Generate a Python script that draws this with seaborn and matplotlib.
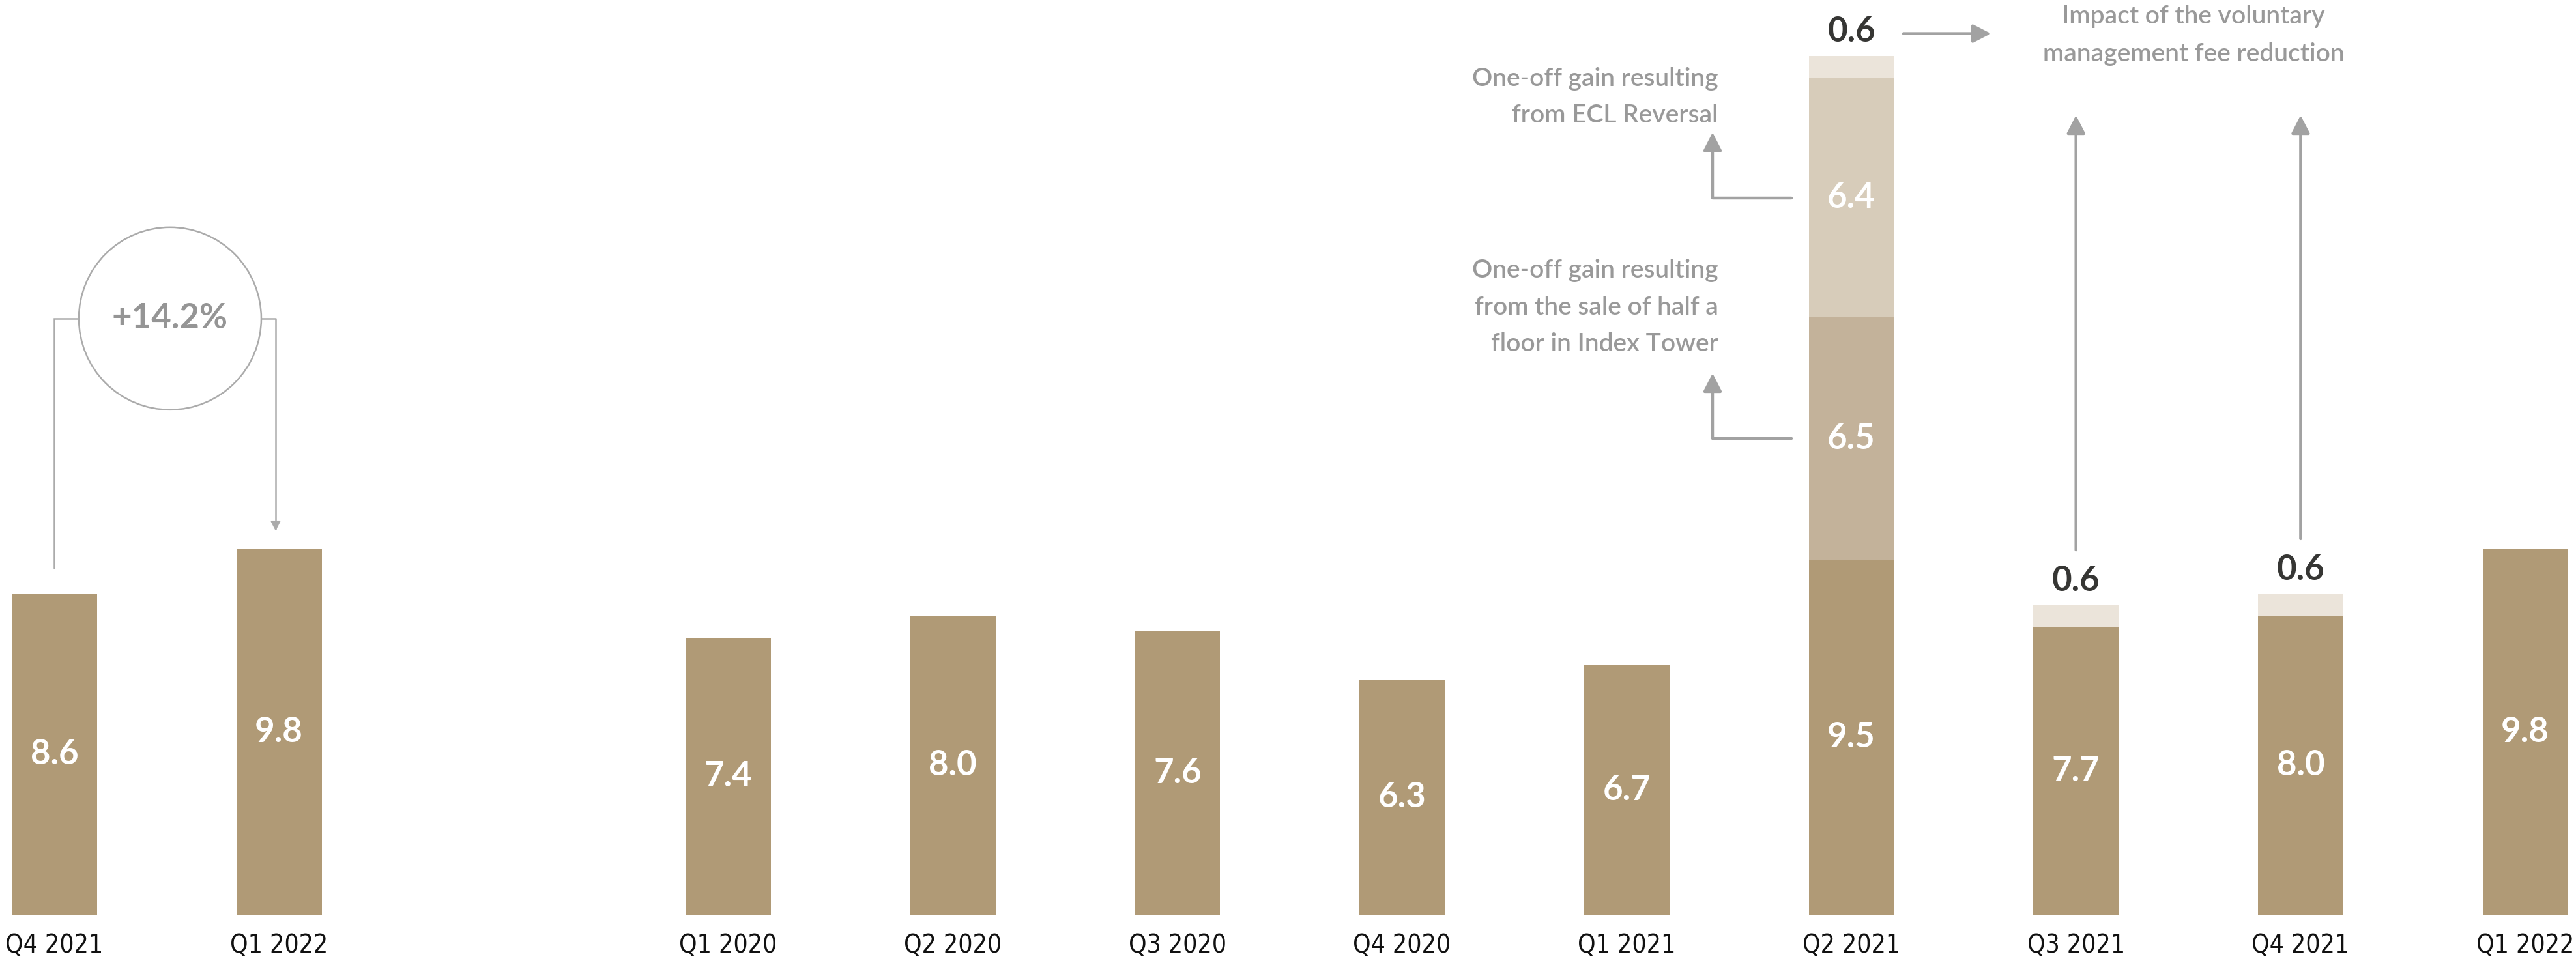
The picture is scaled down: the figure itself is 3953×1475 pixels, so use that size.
import numpy as np
import pandas as pd
import matplotlib
matplotlib.use("Agg")
import matplotlib.pyplot as plt
from matplotlib.patches import Ellipse
from matplotlib import font_manager
import seaborn as sns

# ---------------- data ----------------
summary_quarters = ["Q4 2021", "Q1 2022"]
summary_values = [8.6, 9.8]
growth_text = "+14.2%"

quarters = ["Q1 2020", "Q2 2020", "Q3 2020", "Q4 2020", "Q1 2021",
            "Q2 2021", "Q3 2021", "Q4 2021", "Q1 2022"]
recurring = [7.4, 8.0, 7.6, 6.3, 6.7, 9.5, 7.7, 8.0, 9.8]
index_tower_gain = [0, 0, 0, 0, 0, 6.5, 0, 0, 0]
ecl_reversal = [0, 0, 0, 0, 0, 6.4, 0, 0, 0]
fee_reduction = [0, 0, 0, 0, 0, 0.6, 0.6, 0.6, 0]

ecl_note = "One-off gain resulting\nfrom ECL Reversal"
tower_note = "One-off gain resulting\nfrom the sale of half a\nfloor in Index Tower"
fee_note = "Impact of the voluntary\nmanagement fee reduction"

# ---------------- style ----------------
BASE = "#b09a76"
TOWER = "#c3b29a"
ECL = "#d7ccba"
FEE = "#ebe4da"
ARROW = "#a2a2a2"
CONNECT = "#ababab"
NOTE = "#999999"
DARK = "#363634"

sns.set_theme(style="white")
plt.rcParams["font.family"] = ["Lato", "DejaVu Sans"]

available = {f.name for f in font_manager.fontManager.ttflist}
tick_family = "Liberation Sans Narrow" if "Liberation Sans Narrow" in available else "DejaVu Sans"

# ---------------- layout: two groups on one category axis ----------------
summary_slots = [0, 1]
main_slots = list(range(3, 3 + len(quarters)))
n_slots = 3 + len(quarters)
slot_order = [f"s{i}" for i in range(n_slots)]
tick_labels = [""] * n_slots
for s, q in zip(summary_slots, summary_quarters):
    tick_labels[s] = q
for s, q in zip(main_slots, quarters):
    tick_labels[s] = q

rec = np.array(recurring, dtype=float)
tow = np.array(index_tower_gain, dtype=float)
ecl = np.array(ecl_reversal, dtype=float)
fee = np.array(fee_reduction, dtype=float)
lvl_base = rec
lvl_tower = rec + tow
lvl_ecl = lvl_tower + ecl
lvl_fee = lvl_ecl + fee

rows = []
for layer, vals in [("fee", lvl_fee), ("ecl", lvl_ecl), ("tower", lvl_tower), ("base", lvl_base)]:
    for s, v in zip(main_slots, vals):
        rows.append({"slot": f"s{s}", "layer": layer, "value": v})
for s, v in zip(summary_slots, summary_values):
    rows.append({"slot": f"s{s}", "layer": "base", "value": v})
df = pd.DataFrame(rows)

fig = plt.figure(figsize=(39.53, 14.75), dpi=100)
ax = fig.add_axes([0, 71 / 1475, 1, 1404 / 1475])

sns.barplot(data=df, x="slot", y="value", hue="layer",
            hue_order=["fee", "ecl", "tower", "base"],
            palette={"fee": FEE, "ecl": ECL, "tower": TOWER, "base": BASE},
            order=slot_order, dodge=False, width=0.38, saturation=1,
            errorbar=None, legend=False, linewidth=0, ax=ax)

ax.set_xlim(-0.242, 11.226)
ax.set_ylim(0, 24.5)
sns.despine(ax=ax, left=True, bottom=True)
ax.set_ylabel("")
ax.set_xlabel("")
ax.set_yticks([])
ax.set_xticks(range(n_slots))
ax.set_xticklabels(tick_labels, fontfamily=tick_family, fontsize=28,
                   color="#111111", fontstretch="condensed")
ax.tick_params(axis="x", length=0, pad=20)

VAL_FS = 38

# ---------------- value labels ----------------
for s, v in zip(summary_slots, summary_values):
    ax.text(s, v / 2, f"{v:.1f}", ha="center", va="center", color="white",
            fontsize=VAL_FS, fontweight="bold")

for i, s in enumerate(main_slots):
    segments = [(0.0, rec[i]), (lvl_base[i], tow[i]), (lvl_tower[i], ecl[i])]
    for bottom, h in segments:
        if h > 0:
            ax.text(s, bottom + h / 2, f"{h:.1f}", ha="center", va="center",
                    color="white", fontsize=VAL_FS, fontweight="bold")
    if fee[i] > 0:
        ax.annotate(f"{fee[i]:.1f}", xy=(s, lvl_fee[i]), xytext=(0, 9),
                    textcoords="offset points", ha="center", va="bottom",
                    color=DARK, fontsize=VAL_FS, fontweight="bold")


def arrow(start, end, lw, hl, hw, color, conn="arc3"):
    ax.annotate("", xy=end, xytext=start,
                arrowprops=dict(arrowstyle=f"-|>,head_length={hl},head_width={hw}",
                                connectionstyle=conn, color=color, lw=lw,
                                shrinkA=0, shrinkB=0, mutation_scale=20),
                zorder=5)


# ---------------- growth bubble between the two summary bars ----------------
cx, cy = 0.515, 15.97
ax.add_patch(Ellipse((cx, cy), width=280 / 344.7, height=280 / 57.3,
                     fill=False, ec=CONNECT, lw=1.8, zorder=4))
ax.text(cx, cy, growth_text, ha="center", va="center", color="#959595",
        fontsize=38, fontweight="bold")
ax.plot([summary_slots[0], summary_slots[0], cx - 140 / 344.7],
        [summary_values[0] + 0.68, cy, cy], color=CONNECT, lw=1.8,
        solid_joinstyle="miter")
arrow((cx + 140 / 344.7, cy), (summary_slots[1] - 0.015, summary_values[1] + 0.48),
      1.8, 0.43, 0.22, CONNECT, conn="angle,angleA=0,angleB=90,rad=0")

# ---------------- one-off gain notes for Q2 2021 ----------------
qi = quarters.index("Q2 2021")
q2 = main_slots[qi]
ecl_mid = lvl_tower[qi] + ecl[qi] / 2
tow_mid = lvl_base[qi] + tow[qi] / 2
arrow((q2 - 0.267, ecl_mid), (q2 - 0.618, ecl_mid + 1.75), 3.2, 0.83, 0.43, ARROW,
      conn="angle,angleA=0,angleB=90,rad=0")
arrow((q2 - 0.267, tow_mid), (q2 - 0.618, tow_mid + 1.75), 3.2, 0.83, 0.43, ARROW,
      conn="angle,angleA=0,angleB=90,rad=0")
ax.text(q2 - 0.592, 21.9, ecl_note, ha="right", va="center", color=NOTE,
        fontsize=28, fontweight="semibold", linespacing=1.7)
ax.text(q2 - 0.592, 16.27, tower_note, ha="right", va="center", color=NOTE,
        fontsize=28, fontweight="semibold", linespacing=1.7)

# ---------------- management fee reduction note ----------------
arrow((q2 + 0.232, 23.6), (q2 + 0.621, 23.6), 3.2, 0.83, 0.43, ARROW)
for q in ["Q3 2021", "Q4 2021"]:
    k = quarters.index(q)
    s = main_slots[k]
    arrow((s, lvl_fee[k] + 1.47), (s, 21.41), 3.2, 0.83, 0.43, ARROW)
ax.text(q2 + 1.523, 23.56, fee_note, ha="center", va="center", color=NOTE,
        fontsize=28, fontweight="semibold", linespacing=1.75)

fig.savefig("out.png", dpi=100, facecolor="white")
